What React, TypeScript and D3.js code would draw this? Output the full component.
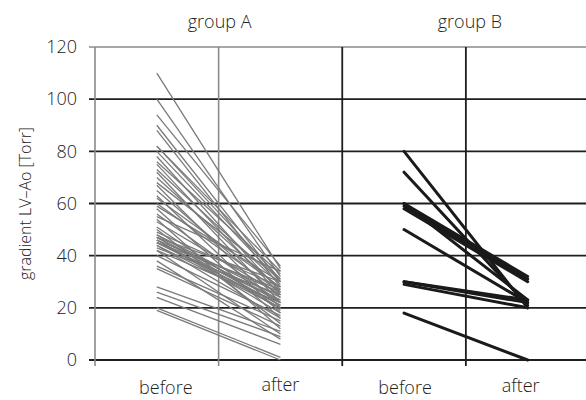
import React from "react";
import * as d3 from "d3";

const categories = ["A-before", "A-after", "B-before", "B-after"];
const categoryLabels = ["before", "after", "before", "after"];
const groupTitles = ["group A", "group B"];
const yTicks = [0, 20, 40, 60, 80, 100, 120];

// group A: [before, after]
const groupABefore = [110, 100, 94, 90, 88, 82, 82, 80, 78, 76, 75, 73, 72, 70, 68, 67, 65, 63, 62, 60, 59, 58, 56, 55, 54, 53, 51, 50, 49, 48, 48, 47, 47, 47, 46, 46, 46, 45, 45, 45, 44, 44, 43, 42, 42, 40, 38, 36, 35, 28, 26, 24, 20, 19];
const groupAAfter = [35, 32, 36, 30, 28, 34, 31, 30, 26, 33, 25, 29, 22, 27, 31, 20, 24, 18, 28, 26, 30, 16, 22, 34, 12, 25, 19, 14, 28, 24, 22, 21, 23, 30, 26, 20, 18, 23, 21, 27, 20, 16, 25, 22, 10, 17, 8, 15, 13, 11, 9, 6, 1, 0];

// group B
const groupBBefore = [80, 72, 60, 59, 58, 60, 50, 30, 29, 30, 18];
const groupBAfter = [20, 21, 32, 31, 30, 23, 22, 22, 20, 23, 0];

const W = 586, H = 400;

export default function App() {
  const x = d3.scaleBand<string>().domain(categories).range([95, 589.5]).padding(0);
  const y = d3.scaleLinear().domain([0, 120]).range([360, 47]);
  const cx = (c: string) => (x(c) as number) + x.bandwidth() / 2;
  const line = d3.line<[number, number]>().x(d => d[0]).y(d => d[1]);
  const font = "'Open Sans', 'DejaVu Sans', sans-serif";
  const dividers = [95, (x("A-after") as number), (x("B-before") as number), (x("B-after") as number)];
  const labelDx = [9, 0, 1, -7];
  const labelBase = [394, 391, 394, 392];

  return (
    <svg width={W} height={H} style={{ position: "absolute", left: 0, top: 0, background: "#fff" }} fontFamily={font}>
      {yTicks.map(t => (
        <line key={"h" + t} x1={89} x2={W} y1={y(t)} y2={y(t)}
          stroke={t === 120 ? "#8a8a8a" : "#1e1e1e"} strokeWidth={t === 120 ? 1.6 : 1.8} />
      ))}
      {dividers.map((d, i) => (
        <line key={"v" + i} x1={d} x2={d} y1={y(120)} y2={366}
          stroke={i < 2 ? "#8a8a8a" : "#1e1e1e"} strokeWidth={i < 2 ? 1.6 : 1.8} />
      ))}
      {groupABefore.map((b, i) => (
        <path key={"a" + i}
          d={line([[cx("A-before"), y(b)], [cx("A-after"), y(groupAAfter[i])]]) as string}
          stroke="#7a7a7a" strokeWidth={1.3} fill="none" />
      ))}
      {groupBBefore.map((b, i) => (
        <path key={"b" + i}
          d={line([[cx("B-before"), y(b)], [cx("B-after"), y(groupBAfter[i])]]) as string}
          stroke="#1a1a1a" strokeWidth={3} fill="none" strokeLinecap="round" />
      ))}
      {yTicks.map(t => (
        <text key={"t" + t} x={77} y={y(t)} dy="0.35em" textAnchor="end" fontSize={18} fill="#222" fontWeight={300}>{t}</text>
      ))}
      {categories.map((c, i) => (
        <text key={"c" + c} x={cx(c) + labelDx[i]} y={labelBase[i]} textAnchor="middle" fontSize={18} fill="#222" fontWeight={300}>{categoryLabels[i]}</text>
      ))}
      {groupTitles.map((g, i) => (
        <text key={g} x={(cx(categories[i * 2]) + cx(categories[i * 2 + 1])) / 2 + (i === 0 ? 1 : 4)} y={28}
          textAnchor="middle" fontSize={18} fill="#222" fontWeight={300}>{g}</text>
      ))}
      <text transform={`translate(31,${y(60)}) rotate(-90)`} textAnchor="middle" fontSize={16} fill="#222" fontWeight={300}>gradient LV–Ao [Torr]</text>
    </svg>
  );
}
